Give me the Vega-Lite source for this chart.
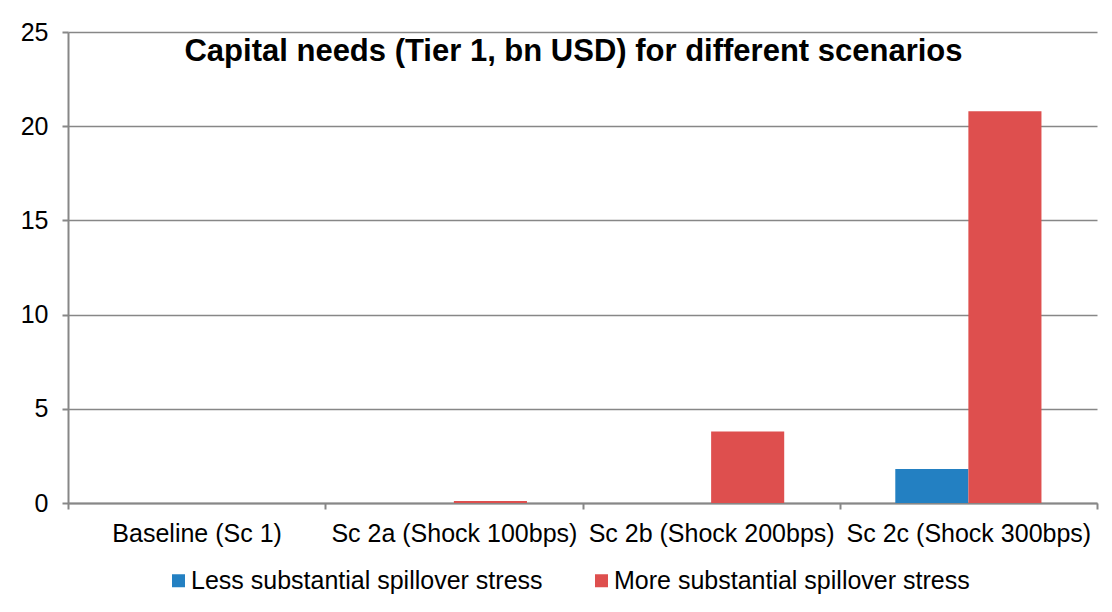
{
  "$schema": "https://vega.github.io/schema/vega-lite/v6.json",
  "width": 1029,
  "height": 471,
  "autosize": {"type": "none"},
  "padding": {"left": 68, "top": 32, "right": 15, "bottom": 109},
  "background": "white",
  "config": {
    "font": "Liberation Sans",
    "view": {"stroke": null},
    "axis": {
      "labelFont": "Liberation Sans",
      "labelFontSize": 25,
      "labelColor": "#000000",
      "labelLimit": 600,
      "domainColor": "#878787",
      "domainWidth": 2,
      "tickColor": "#878787",
      "tickWidth": 2,
      "tickSize": 6,
      "gridColor": "#878787",
      "gridWidth": 1.5,
      "title": null
    }
  },
  "title": {
    "text": "Capital needs (Tier 1, bn USD) for different scenarios",
    "font": "Liberation Sans",
    "fontSize": 31,
    "fontWeight": "bold",
    "color": "#000000",
    "anchor": "middle",
    "frame": "group",
    "baseline": "alphabetic",
    "offset": 0,
    "dx": -9,
    "dy": 72
  },
  "data": {
    "values": [
      {"scenario": "Baseline (Sc 1)", "series": "Less substantial spillover stress", "value": 0},
      {"scenario": "Baseline (Sc 1)", "series": "More substantial spillover stress", "value": 0},
      {"scenario": "Sc 2a (Shock 100bps)", "series": "Less substantial spillover stress", "value": 0},
      {"scenario": "Sc 2a (Shock 100bps)", "series": "More substantial spillover stress", "value": 0.1},
      {"scenario": "Sc 2b (Shock 200bps)", "series": "Less substantial spillover stress", "value": 0},
      {"scenario": "Sc 2b (Shock 200bps)", "series": "More substantial spillover stress", "value": 3.8},
      {"scenario": "Sc 2c (Shock 300bps)", "series": "Less substantial spillover stress", "value": 1.8},
      {"scenario": "Sc 2c (Shock 300bps)", "series": "More substantial spillover stress", "value": 20.8}
    ]
  },
  "mark": {"type": "bar", "stroke": null},
  "encoding": {
    "x": {
      "field": "scenario",
      "type": "nominal",
      "sort": null,
      "scale": {"paddingInner": 0, "paddingOuter": 0},
      "axis": {
        "labelAngle": 0,
        "labelPadding": 12,
        "tickBand": "extent",
        "grid": false
      }
    },
    "xOffset": {
      "field": "series",
      "type": "nominal",
      "scale": {"paddingInner": 0, "paddingOuter": 0.76}
    },
    "y": {
      "field": "value",
      "type": "quantitative",
      "scale": {"domain": [0, 25], "nice": false},
      "axis": {
        "values": [0, 5, 10, 15, 20, 25],
        "labelPadding": 14,
        "grid": true,
        "domain": true
      }
    },
    "color": {
      "field": "series",
      "type": "nominal",
      "scale": {
        "domain": ["Less substantial spillover stress", "More substantial spillover stress"],
        "range": ["#2380C2", "#DE4F4E"]
      },
      "legend": {
        "title": null,
        "orient": "none",
        "direction": "horizontal",
        "legendX": 98,
        "legendY": 536,
        "padding": 0,
        "symbolType": "square",
        "symbolSize": 169,
        "symbolStrokeWidth": 0,
        "labelFont": "Liberation Sans",
        "labelFontSize": 25,
        "labelColor": "#000000",
        "labelOffset": 0,
        "columnPadding": 46,
        "labelLimit": 500
      }
    }
  }
}
